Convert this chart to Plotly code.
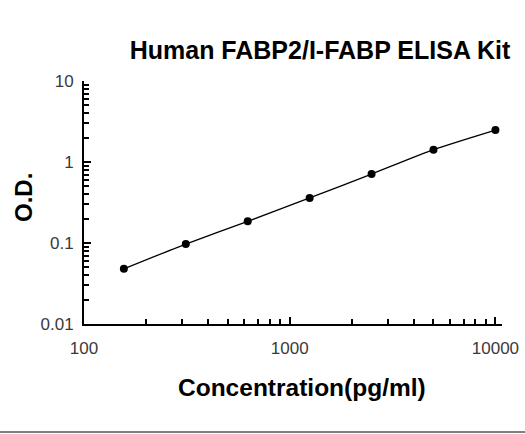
import plotly.graph_objects as go

concentration = [156.25, 312.5, 625, 1250, 2500, 5000, 10000]
od_values = [0.048, 0.097, 0.185, 0.36, 0.71, 1.42, 2.48]

x_tickvals = [100, 1000, 10000]
x_ticktext = ["100", "1000", "10000"]
y_tickvals = [0.01, 0.1, 1, 10]
y_ticktext = ["0.01", "0.1", "1", "10"]

title_text = "Human FABP2/I-FABP ELISA Kit"
x_title = "Concentration(pg/ml)"
y_title = "O.D."

W, H = 525, 434
L, R, T, B = 84, 23, 81, 110
PW, PH = W - L - R, H - T - B

fig = go.Figure()
fig.add_trace(go.Scatter(
    x=concentration, y=od_values,
    mode="lines+markers",
    line=dict(color="black", width=1.3, shape="spline", smoothing=0.6),
    marker=dict(color="black", size=8),
    showlegend=False,
))

font_family = "Liberation Sans, Arial, sans-serif"
axis_font = dict(family=font_family, size=17, color="#3a3a3a")

fig.update_layout(
    width=W, height=H,
    margin=dict(l=L, r=R, t=T, b=B, autoexpand=False),
    paper_bgcolor="white", plot_bgcolor="white",
    title=dict(text="<b>" + title_text + "</b>", x=320/W, xanchor="center",
               y=1 - 50/H, yanchor="middle", yref="container",
               font=dict(family=font_family, size=25, color="black")),
    xaxis=dict(type="log", range=[2, 4.032], showline=True, linecolor="black", linewidth=2,
               showgrid=False, zeroline=False, tickvals=x_tickvals, ticktext=x_ticktext,
               ticks="inside", ticklen=7, tickwidth=1.5, tickcolor="black", tickfont=axis_font,
               ticklabelstandoff=8, automargin=False,
               minor=dict(ticks="inside", ticklen=5, tickwidth=1.5, tickcolor="black", dtick="D1", showgrid=False)),
    yaxis=dict(type="log", range=[-2, 1], showline=True, linecolor="black", linewidth=2,
               showgrid=False, zeroline=False, tickvals=y_tickvals, ticktext=y_ticktext,
               ticks="inside", ticklen=7, tickwidth=1.5, tickcolor="black", tickfont=axis_font,
               ticklabelstandoff=5, automargin=False,
               minor=dict(ticks="inside", ticklen=5, tickwidth=1.5, tickcolor="black", dtick="D1", showgrid=False)),
)

fig.add_annotation(text="<b>" + x_title + "</b>", xref="paper", yref="paper",
                   x=(302 - L) / PW, y=-(387 - (T + PH)) / PH, showarrow=False,
                   xanchor="center", yanchor="middle",
                   font=dict(family=font_family, size=24.5, color="black"))
fig.add_annotation(text="<b>" + y_title + "</b>", xref="paper", yref="paper",
                   x=-(L - 23) / PW, y=(T + PH - 197) / PH, showarrow=False, textangle=-90,
                   xanchor="center", yanchor="middle",
                   font=dict(family=font_family, size=24, color="black"))

fig.add_shape(type="line", xref="paper", yref="paper",
              x0=-L/PW, x1=(W-L)/PW, y0=-(432 - (T + PH))/PH, y1=-(432 - (T + PH))/PH,
              line=dict(color="black", width=1))

fig.write_html("out.html", config={"displayModeBar": False},
               post_script="document.body.style.margin='0';document.body.style.overflow='hidden';")
